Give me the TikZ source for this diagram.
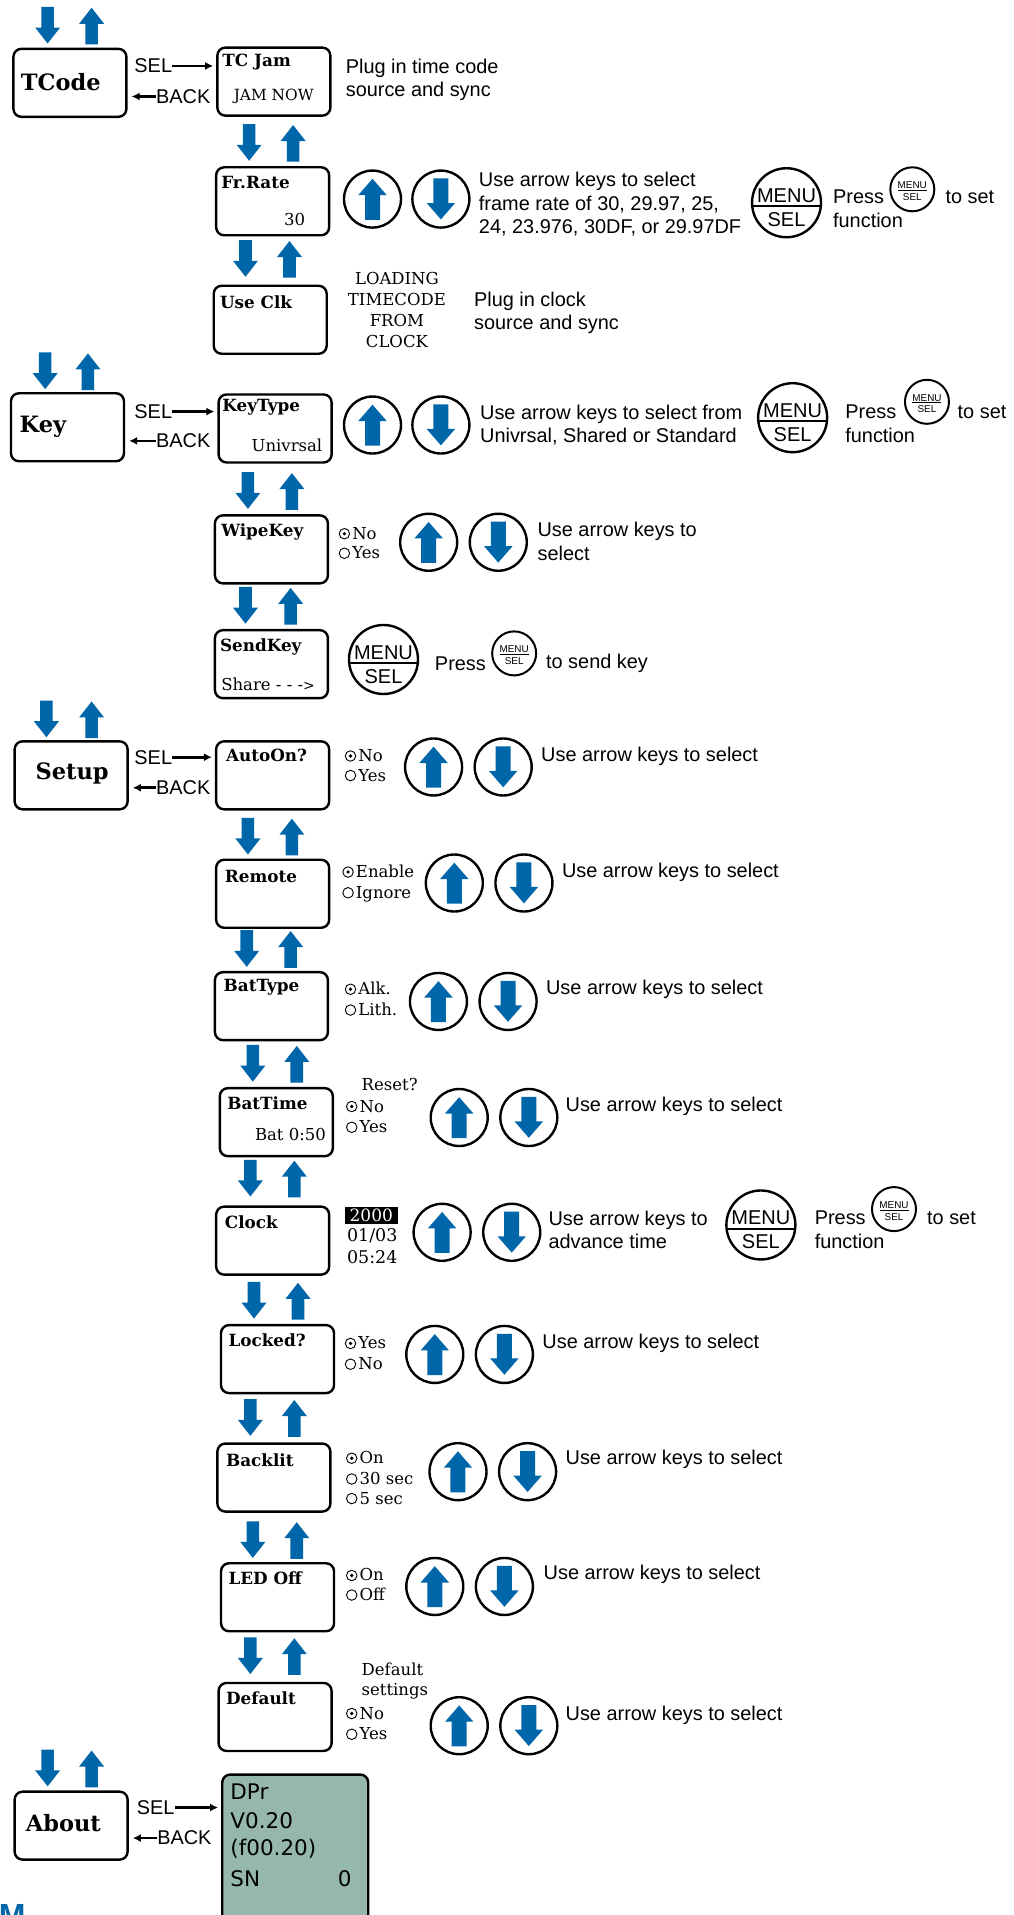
\documentclass[tikz,border=0pt]{standalone}
\usepackage{fontspec}
\setmainfont{Liberation Sans}
\newfontfamily\slabfont{DejaVu Serif}
\newfontfamily\lcdfont{DejaVu Sans}
\usetikzlibrary{positioning,shapes.arrows,arrows.meta}
\definecolor{keyblue}{RGB}{0,102,170}
\definecolor{lcdgreen}{RGB}{150,184,170}
\tikzset{
  menubox/.style={draw,line width=2.4pt,rounded corners=8pt,minimum width=113pt,minimum height=68pt,anchor=north west,inner sep=0pt},
  boxtitle/.style={anchor=west,inner sep=0pt,yshift=-2pt,font=\slabfont\bfseries\fontsize{16.8}{18}\selectfont},
  bigtitle/.style={anchor=west,inner sep=0pt,yshift=-0.5pt,font=\slabfont\bfseries\fontsize{22.5}{24}\selectfont},
  boxvalue/.style={anchor=east,inner sep=0pt,font=\slabfont\fontsize{16.5}{18}\selectfont},
  optext/.style={anchor=west,inner sep=0pt,align=left,font=\slabfont\fontsize{16.5}{20.8}\selectfont},
  radiotext/.style={optext,text height=14.5pt,text depth=3.5pt},
  centext/.style={inner sep=0pt,align=center,font=\slabfont\fontsize{16.5}{21}\selectfont},
  helptext/.style={anchor=west,inner sep=0pt,align=left,yshift=-1.5pt,font=\fontsize{19.9}{23.2}\selectfont},
  seltext/.style={inner sep=0pt,font=\fontsize{19.9}{22}\selectfont},
  selarrow/.style={-{Latex[length=8pt,width=8pt]},line width=2.6pt},
  bigdown/.style={single arrow,fill=keyblue,minimum height=36.7pt,inner xsep=0pt,inner ysep=6.1pt,single arrow head extend=6.2pt,single arrow tip angle=76,yshift=4.5pt,rotate=-90},
  bigup/.style={single arrow,fill=keyblue,minimum height=36.7pt,inner xsep=0pt,inner ysep=6.1pt,single arrow head extend=6.2pt,single arrow tip angle=76,yshift=-4.5pt,rotate=90},
  keyring/.style={circle,draw,line width=2.4pt,minimum size=57pt,inner sep=0pt},
  keydown/.style={single arrow,fill=keyblue,minimum height=41pt,inner xsep=0pt,inner ysep=7.3pt,single arrow head extend=6.7pt,single arrow tip angle=82,yshift=4.5pt,rotate=-90},
  keyup/.style={single arrow,fill=keyblue,minimum height=41pt,inner xsep=0pt,inner ysep=7.3pt,single arrow head extend=6.7pt,single arrow tip angle=82,yshift=-4.5pt,rotate=90},
  bigmenu/.style={circle,draw,line width=2.4pt,minimum size=69pt,inner sep=0pt},
  smallmenu/.style={circle,draw,line width=2pt,minimum size=44pt,inner sep=0pt},
  radiooff/.style={circle,draw,line width=0.9pt,minimum size=10.5pt,inner sep=0pt},
  radioon/.style={radiooff,path picture={\fill (path picture bounding box.center) circle (1.8pt);}},
}
\begin{document}
\begin{tikzpicture}[x=1.2213pt,y=-1.2213pt]
\clip (0,0) rectangle (829.46,1568);
% left column and menu screens
\foreach \name/\xa/\ya in {tcode/10/39,tcjam/177/38,frrate/176/136,useclk/174/233,key/8/321,keytype/178/322,wipekey/175/421,sendkey/175/515,setup/11/606,autoon/176/606,remote/176/703,battype/175/795,battime/179/890,clock/176/987,locked/180/1084,backlit/177/1181,ledoff/180/1279,default/178/1377,about/11/1466}
  \node[menubox] (\name) at (\xa,\ya) {};
\node[menubox,fill=lcdgreen,minimum width=146pt,minimum height=170pt] (lcd) at (181,1452) {};
% titles
\foreach \name/\xa/\ya/\txt in {tcode/17/67/TCode,key/16/349/Key,setup/29/633/Setup,about/21/1492/About}
  \node[bigtitle] (\name-t) at (\xa,\ya) {\txt};
\foreach \name/\xa/\ya/\txt in {tcjam/182/49/TC Jam,frrate/181/148/Fr.Rate,useclk/180/246/Use Clk,keytype/182/332/KeyType,wipekey/181/434/WipeKey,sendkey/180/528/SendKey,autoon/185/617/AutoOn?,remote/184/716/Remote,battype/183/807/BatType,battime/186/902/BatTime,clock/184/999/Clock,locked/187/1096/Locked?,backlit/185/1194/Backlit,ledoff/187/1291/LED Off,default/185/1389/Default}
  \node[boxtitle] (\name-t) at (\xa,\ya) {\txt};
\foreach \name/\xa/\ya/\txt in {frrate/250/180/30,keytype/264/365/Univrsal,sendkey/258/560/Share - - -{\fontsize{14}{14}\selectfont>},battime/267/929/Bat 0:50}
  \node[boxvalue] (\name-v) at (\xa,\ya) {\txt};
\node[boxvalue,font=\slabfont\fontsize{15.4}{18}\selectfont] (tcjam-v) at (257,79) {JAM NOW};
% blue arrows between screens
\foreach \xd/\xu/\yc [count=\i] in {39/75/21,204/240/117,201/237/212,37/72/304,203/239/402,201/238/496,38/75/589,203/239/685,202/238/777,207/243/871,205/241/965,208/244/1065,205/241/1161,207/243/1261,205/241/1356,39/75/1448}
{
  \node[bigdown] (dn\i) at (\xd,\yc) {};
  \node[bigup] (up\i) at (\xu,\yc) {};
}
% sel and back
\foreach \name/\scr/\xs/\ys/\xb/\yb in {tcode/tcjam/125.5/54/150/79,key/keytype/125.5/337/150/361,setup/autoon/125.5/620/150/645,about/lcd/127.5/1480/151/1505}
{
  \node[seltext] (sel-\name) at (\xs,\ys) {SEL};
  \node[seltext] (back-\name) at (\xb,\yb) {BACK};
  \draw[selarrow,shorten >=3pt] (sel-\name.east) -- (sel-\name.east -| \scr.west);
  \draw[selarrow,shorten >=4pt] (back-\name.west) -- (back-\name.west -| \name.east);
}
% arrow keys
\foreach \xu/\xd/\yc [count=\i] in {305/361/163,305/361/348,351/408/444,355/412/628,372/429/723,359/416/820,376/433/915,362/419/1009,356/413/1109,375/432/1205,356/413/1299,376/433/1413}
{
  \node[keyring] (ku\i) at (\xu,\yc) {};
  \node[keyup] (kua\i) at (ku\i) {};
  \node[keyring] (kd\i) at (\xd,\yc) {};
  \node[keydown] (kda\i) at (kd\i) {};
}
% menu keys
\foreach \xa/\ya [count=\i] in {644/166,649/342,314/540,623/1003}
{
  \node[bigmenu] (bm\i) at (\xa,\ya) {};
  \node[inner sep=0pt,font=\fontsize{20}{22}\selectfont,above=0pt of bm\i.center] (bmt\i) {MENU};
  \node[inner sep=0pt,font=\fontsize{20}{22}\selectfont,below=9.5pt of bm\i.center] (bmb\i) {SEL};
  \draw[line width=2pt] ([yshift=-3.7pt,xshift=2pt]bm\i.west) -- ([yshift=-3.7pt,xshift=-2pt]bm\i.east);
}
\foreach \xa/\ya [count=\i] in {747/155,759/329,421/535,732/990}
{
  \node[smallmenu] (sm\i) at (\xa,\ya) {};
  \node[inner sep=0pt,font=\fontsize{9.9}{11}\selectfont,above=0.5pt of sm\i.center] (smt\i) {MENU};
  \node[inner sep=0pt,font=\fontsize{9.9}{11}\selectfont,below=4pt of sm\i.center] (smb\i) {SEL};
  \draw[line width=0.9pt] ([xshift=-14.5pt,yshift=-1pt]sm\i.center) -- ([xshift=14.5pt,yshift=-1pt]sm\i.center);
}
% help text
\node[helptext] (h1) at (283,64) {Plug in time code\\source and sync};
\node[helptext] (h2) at (392,166) {Use arrow keys to select\\frame rate of 30, 29.97, 25,\\24, 23.976, 30DF, or 29.97DF};
\node[helptext] (h3) at (388,255) {Plug in clock\\source and sync};
\node[helptext] (h4) at (393,347) {Use arrow keys to select from\\Univrsal, Shared or Standard};
\node[helptext] (h5) at (440,442) {Use arrow keys to\\select};
\node[helptext] (h6) at (449,1006) {Use arrow keys to\\advance time};
\foreach \xa/\ya [count=\i] in {443/618,460/713,447/809,463/905,444/1099,463/1194,445/1288,463/1403}
  \node[helptext] (sel\i) at (\xa,\ya) {Use arrow keys to select};
\foreach \xa/\ya/\xb/\yb [count=\i] in {682/160/774/179,692/336/784/355,667/996/759/1015}
{
  \node[helptext] (pr\i) at (\xa,\ya) {Press};
  \node[helptext] (ts\i) at (\xb,\ya) {to set};
  \node[helptext] (fn\i) at (\xa,\yb) {function};
}
\node[helptext] (pr4) at (356,542) {Press};
\node[helptext] (ts4) at (447,542) {to send key};
\node[centext] (load) at (325,254) {LOADING\\TIMECODE\\FROM\\CLOCK};
% radio buttons
\foreach \st/\xa/\ya/\txt [count=\i] in {radioon/282/437/No,radiooff/282/453/Yes,radioon/287/619/No,radiooff/287/635/Yes,radioon/285/714/Enable,radiooff/285/731/Ignore,radioon/287/810/Alk.,radiooff/287/827/Lith.,radioon/288/906/No,radiooff/288/923/Yes,radioon/287/1100/Yes,radiooff/287/1117/No,radioon/288/1194/On,radiooff/288/1211/30 sec,radiooff/288/1227/5 sec,radioon/288/1290/On,radiooff/288/1306/Off,radioon/288/1403/No,radiooff/288/1420/Yes}
{
  \node[\st] (rb\i) at (\xa,\ya) {};
  \node[radiotext,right=2pt of rb\i] (rt\i) {\txt};
}
\node[optext] (reset) at (296,888) {Reset?};
\node[optext] (dflt) at (296,1376.5) {Default\\settings};
% clock values
\node[fill=black,text=white,inner sep=0pt,minimum width=53.5pt,minimum height=17pt,font=\slabfont\fontsize{17}{18}\selectfont] (year) at (304,995) {2000};
\node[optext,font=\slabfont\fontsize{17.5}{18}\selectfont] (date) at (284,1012) {01/03};
\node[optext,font=\slabfont\fontsize{17.5}{18}\selectfont] (time) at (284,1029) {05:24};
% lcd text
\foreach \txt/\ya [count=\i] in {DPr/1467,V0.20/1491,(f00.20)/1514,SN/1538}
  \node[anchor=west,inner sep=0pt,font=\lcdfont\fontsize{21.5}{24}\selectfont] (lcd\i) at (188.5,\ya) {\txt};
\node[anchor=east,inner sep=0pt,font=\lcdfont\fontsize{21.5}{24}\selectfont] (lcd0) at (288,1538) {0};
% logo edge
\node[anchor=base west,inner sep=0pt,text=keyblue,font=\bfseries\fontsize{32}{32}\selectfont] (logo) at (-1,1577) {M};
\end{tikzpicture}
\end{document}
